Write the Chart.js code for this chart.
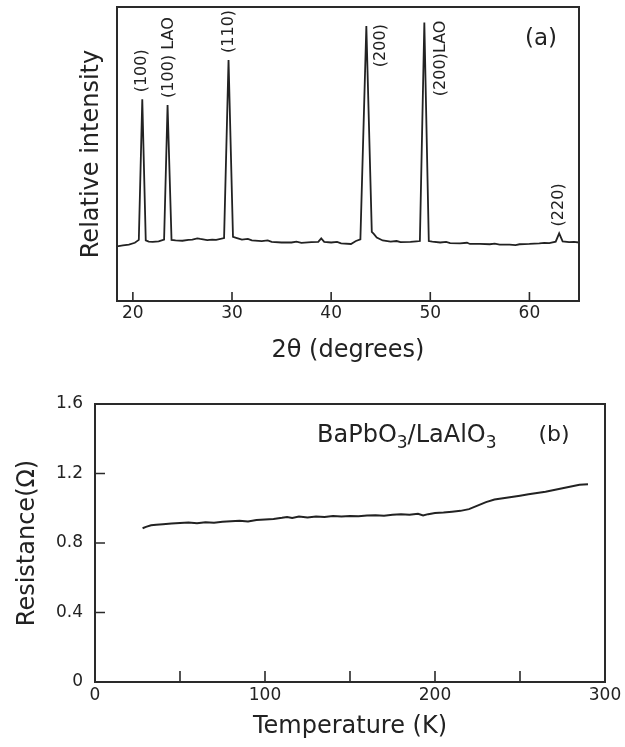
<!DOCTYPE html>
<html>
<head>
<meta charset="utf-8">
<script src="https://cdn.jsdelivr.net/npm/chart.js@4.4.1/dist/chart.umd.min.js"></script>
<style>
  html, body { margin: 0; padding: 0; background: #fff; }
  #wrap { position: relative; width: 625px; height: 747px; }
  canvas { position: absolute; left: 0; }
  #xrd { top: 0; }
  #res { top: 380px; }
</style>
</head>
<body>
<div id="wrap">
  <canvas id="xrd" width="625" height="380"></canvas>
  <canvas id="res" width="625" height="367"></canvas>
</div>
<script>
// (a) X-ray diffraction scan, intensity in arbitrary units (0-100)
const twoTheta = [
  18.4, 19.0, 19.6, 20.2, 20.6, 20.95, 21.3, 21.6, 22.0, 22.6, 23.15, 23.5, 23.9, 24.3,
  25.0, 25.6, 26.0, 26.5, 26.8, 27.5, 28.0, 28.4, 29.2, 29.65, 30.1, 30.5, 31.0, 31.6,
  32.0, 33.0, 33.6, 34.0, 35.0, 36.0, 36.5, 37.0, 38.0, 38.7, 39.0, 39.3, 40.0, 40.6,
  41.0, 42.0, 42.5, 42.95, 43.55, 44.1, 44.3, 44.6, 45.2, 46.0, 46.6, 47.0, 48.0, 48.6,
  48.95, 49.4, 49.85, 50.2, 51.0, 51.6, 52.0, 53.0, 53.7, 54.0, 55.0, 56.0, 56.5, 57.0,
  58.0, 58.6, 59.0, 60.0, 61.0, 61.5, 62.0, 62.65, 63.0, 63.35, 64.0, 64.5, 65.0
];
const intensity = [
  18.6, 18.9, 19.2, 19.8, 20.8, 68.6, 20.6, 20.2, 20.1, 20.3, 20.9, 66.7, 20.8, 20.6,
  20.5, 20.8, 20.9, 21.3, 21.1, 20.7, 20.9, 20.8, 21.4, 82.0, 21.8, 21.4, 20.9, 21.1,
  20.6, 20.4, 20.6, 20.1, 19.9, 19.9, 20.2, 19.8, 20.0, 20.1, 21.3, 20.1, 19.9, 20.1,
  19.6, 19.4, 20.4, 21.0, 93.5, 23.5, 22.8, 21.6, 20.6, 20.2, 20.4, 20.0, 20.1, 20.3,
  20.4, 94.7, 20.4, 20.2, 19.9, 20.1, 19.7, 19.6, 19.8, 19.4, 19.4, 19.3, 19.5, 19.2,
  19.2, 19.0, 19.3, 19.4, 19.6, 19.8, 19.7, 20.2, 23.0, 20.3, 20.0, 20.1, 19.9
];
const xrdTicks = [20, 30, 40, 50, 60];
const peakNames = ['(100)', '(100) LAO', '(110)', '(200)', '(200)LAO', '(220)'];
const peakAngles = [20.95, 23.5, 29.65, 43.55, 49.4, 63.0];
const peakHeights = [68.6, 66.7, 82.0, 93.5, 94.7, 23.0];

// (b) resistance of the BaPbO3 film on LaAlO3
const temperature = [
  28, 30, 33, 36, 40, 45, 50, 55, 60, 65, 70, 75, 80, 85, 90, 95, 100, 105, 110, 113,
  116, 120, 125, 130, 135, 140, 145, 150, 155, 160, 165, 170, 175, 180, 185, 190, 193,
  196, 200, 205, 210, 215, 220, 225, 230, 235, 240, 245, 250, 255, 260, 265, 270, 275,
  280, 285, 290
];
const resistance = [
  0.885, 0.893, 0.902, 0.905, 0.908, 0.912, 0.915, 0.918, 0.914, 0.920, 0.917, 0.922,
  0.925, 0.928, 0.924, 0.932, 0.935, 0.938, 0.945, 0.950, 0.944, 0.952, 0.947, 0.953,
  0.949, 0.955, 0.952, 0.956, 0.954, 0.958, 0.960, 0.957, 0.962, 0.965, 0.962, 0.968,
  0.958, 0.966, 0.972, 0.975, 0.980, 0.985, 0.995, 1.015, 1.035, 1.050, 1.058, 1.065,
  1.072, 1.080, 1.088, 1.095, 1.105, 1.115, 1.125, 1.135, 1.138
];
const tempTicks = [0, 50, 100, 150, 200, 250, 300];
const resTicks = [0, 0.4, 0.8, 1.2, 1.6];

const INK = '#222222';
const FONT = "'DejaVu Sans', sans-serif";
Chart.defaults.font.family = FONT;
Chart.defaults.color = INK;

// box round the plot area plus short inward tick marks, like the printed figure
const framePlugin = {
  id: 'frame',
  afterDatasetsDraw(chart, args, opts) {
    const { ctx, chartArea: a, scales: { x, y } } = chart;
    ctx.save();
    ctx.strokeStyle = '#2a2a2a';
    ctx.lineWidth = 2;
    ctx.strokeRect(a.left, a.top, a.right - a.left, a.bottom - a.top);
    ctx.lineWidth = 1.6;
    ctx.beginPath();
    (opts.xMarks || []).forEach(v => {
      const px = x.getPixelForValue(v);
      ctx.moveTo(px, a.bottom);
      ctx.lineTo(px, a.bottom - opts.xLen);
    });
    (opts.yMarks || []).forEach(v => {
      const py = y.getPixelForValue(v);
      ctx.moveTo(a.left, py);
      ctx.lineTo(a.left + opts.yLen, py);
    });
    ctx.stroke();
    ctx.restore();
  }
};

// reflection labels, written upward; the two big peaks have theirs on the right side
const labelDx = [0, 1, 0, 15, 17, 0];
const peakLabelPlugin = {
  id: 'peakLabels',
  afterDatasetsDraw(chart) {
    const { ctx, chartArea: a, scales: { x, y } } = chart;
    ctx.save();
    ctx.fillStyle = INK;
    ctx.font = '16px ' + FONT;
    ctx.textBaseline = 'middle';
    peakNames.forEach((name, i) => {
      const px = x.getPixelForValue(peakAngles[i]);
      const py = y.getPixelForValue(peakHeights[i]);
      ctx.save();
      if (labelDx[i] > 5) {
        ctx.translate(px + labelDx[i], py - 2);
        ctx.rotate(-Math.PI / 2);
        ctx.textAlign = 'right';
      } else {
        ctx.translate(px + labelDx[i], py - 7);
        ctx.rotate(-Math.PI / 2);
        ctx.textAlign = 'left';
      }
      ctx.fillText(name, 0, 0);
      ctx.restore();
    });
    ctx.font = '23px ' + FONT;
    ctx.textAlign = 'center';
    ctx.fillText('(a)', a.right - 38, a.top + 32);
    ctx.restore();
  }
};

const sampleLabelPlugin = {
  id: 'sampleLabel',
  afterDatasetsDraw(chart) {
    const { ctx } = chart;
    ctx.save();
    ctx.fillStyle = INK;
    ctx.textBaseline = 'alphabetic';
    ctx.textAlign = 'left';
    const parts = [['BaPbO', false], ['3', true], ['/LaAlO', false], ['3', true]];
    let cx = 317;
    parts.forEach(([t, sub]) => {
      ctx.font = (sub ? '17px ' : '24px ') + FONT;
      ctx.fillText(t, cx, sub ? 68 : 62);
      cx += ctx.measureText(t).width;
    });
    ctx.font = '22px ' + FONT;
    ctx.textAlign = 'center';
    ctx.textBaseline = 'middle';
    ctx.fillText('(b)', 554, 55);
    ctx.restore();
  }
};

new Chart(document.getElementById('xrd'), {
  type: 'line',
  data: {
    datasets: [{
      data: twoTheta.map((t, i) => ({ x: t, y: intensity[i] })),
      borderColor: INK,
      borderWidth: 1.8,
      pointRadius: 0,
      tension: 0
    }]
  },
  options: {
    responsive: false,
    animation: false,
    layout: { padding: { top: 7, right: 46, bottom: 0, left: 0 } },
    plugins: {
      legend: { display: false },
      tooltip: { enabled: false },
      frame: { xMarks: xrdTicks, xLen: 9 }
    },
    scales: {
      x: {
        type: 'linear', min: 18.4, max: 65,
        afterBuildTicks: s => { s.ticks = xrdTicks.map(v => ({ value: v })); },
        afterFit: s => { s.height = 79; },
        grid: { display: false, drawTicks: false },
        border: { display: false },
        ticks: { font: { size: 17 }, color: INK, padding: 2, maxRotation: 0 },
        title: { display: true, text: '2θ (degrees)', font: { size: 24 }, color: INK, padding: { top: 0, bottom: 15 } }
      },
      y: {
        min: 0, max: 100,
        afterFit: s => { s.width = 117; },
        grid: { display: false, drawTicks: false },
        border: { display: false },
        ticks: { display: false },
        title: { display: true, text: 'Relative intensity', font: { size: 24 }, color: INK, padding: { top: 77, bottom: 0 } }
      }
    }
  },
  plugins: [framePlugin, peakLabelPlugin]
});

new Chart(document.getElementById('res'), {
  type: 'line',
  data: {
    datasets: [{
      data: temperature.map((t, i) => ({ x: t, y: resistance[i] })),
      borderColor: INK,
      borderWidth: 2,
      pointRadius: 0,
      tension: 0
    }]
  },
  options: {
    responsive: false,
    animation: false,
    layout: { padding: { top: 24, right: 20, bottom: 0, left: 0 } },
    plugins: {
      legend: { display: false },
      tooltip: { enabled: false },
      frame: { xMarks: [50, 100, 150, 200, 250], xLen: 11, yMarks: [0.4, 0.8, 1.2], yLen: 10 }
    },
    scales: {
      x: {
        type: 'linear', min: 0, max: 300,
        afterBuildTicks: s => { s.ticks = tempTicks.map(v => ({ value: v })); },
        afterFit: s => { s.height = 65; },
        grid: { display: false, drawTicks: false },
        border: { display: false },
        ticks: { font: { size: 17 }, color: INK, padding: 3, maxRotation: 0, callback: v => (v % 100 === 0 ? String(v) : '') },
        title: { display: true, text: 'Temperature (K)', font: { size: 24 }, color: INK, padding: { top: 0, bottom: 6 } }
      },
      y: {
        min: 0, max: 1.6,
        afterBuildTicks: s => { s.ticks = resTicks.map(v => ({ value: v })); },
        afterFit: s => { s.width = 95; },
        grid: { display: false, drawTicks: false },
        border: { display: false },
        ticks: { font: { size: 17 }, color: INK, padding: 12, callback: v => (v === 0 ? '0' : v.toFixed(1)) },
        title: { display: true, text: 'Resistance(Ω)', font: { size: 24 }, color: INK, padding: { top: 13, bottom: 0 } }
      }
    }
  },
  plugins: [framePlugin, sampleLabelPlugin]
});
</script>
</body>
</html>
